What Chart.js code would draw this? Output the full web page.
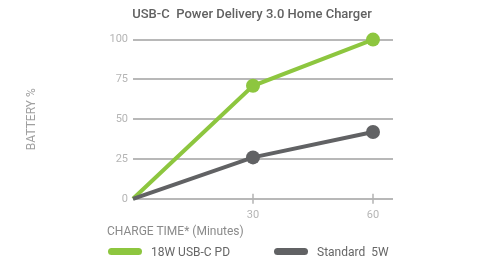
<!DOCTYPE html>
<html>
<head>
<meta charset="utf-8">
<script src="https://cdn.jsdelivr.net/npm/chart.js@4"></script>
<style>
  body { margin: 0; background: #fff; font-family: Roboto, "Liberation Sans", sans-serif; }
  #wrap { position: relative; width: 487px; height: 261px; }
  #xtitle { position: absolute; left: 107px; top: 224px; font-size: 12px; color: #8a8a8a; }
  .leg { position: absolute; top: 245px; font-size: 12px; color: #666; white-space: pre; }
  .leg span.sw { display: inline-block; width: 34px; height: 7px; border-radius: 4px; vertical-align: middle; margin-right: 9px; position: relative; top: -1px; }
</style>
</head>
<body>
<div id="wrap">
  <canvas id="chart" width="487" height="261"></canvas>
  <div id="xtitle">CHARGE TIME* (Minutes)</div>
  <div class="leg" id="leg0" style="left:108px"></div>
  <div class="leg" id="leg1" style="left:274px"></div>
</div>
<script>
/*-------------------------------------------------------------------------*/
// Data
/*-------------------------------------------------------------------------*/
var chartTitle = "USB-C  Power Delivery 3.0 Home Charger";
var minutes = [0, 30, 60];
var fastCharge = [0, 71, 100];
var standardCharge = [0, 26, 42];
var seriesNames = ["18W USB-C PD", "Standard  5W"];
var seriesColors = ["#8dc63f", "#616264"];
var xTicks = [30, 60];
var yTicks = [0, 25, 50, 75, 100];

function toPoints(vals) {
	return minutes.map(function (m, i) { return { x: m, y: vals[i] }; });
}

// tick marks crossing the bottom axis
var crossTicks = {
	id: 'crossTicks',
	afterDatasetsDraw: function (chart) {
		var ctx = chart.ctx, xs = chart.scales.x, bottom = chart.chartArea.bottom;
		ctx.save();
		ctx.strokeStyle = '#b3b3b3';
		ctx.lineWidth = 1.5;
		xTicks.forEach(function (t) {
			var px = xs.getPixelForValue(t);
			ctx.beginPath();
			ctx.moveTo(px, bottom - 5);
			ctx.lineTo(px, bottom + 5);
			ctx.stroke();
		});
		ctx.restore();
	}
};

var ds = [fastCharge, standardCharge].map(function (vals, i) {
	return {
		label: seriesNames[i],
		data: toPoints(vals),
		borderColor: seriesColors[i],
		backgroundColor: seriesColors[i],
		borderWidth: 4,
		pointRadius: [0, 7, 7],
		pointBorderWidth: 0,
		clip: false,
		order: 1 - i
	};
});

new Chart(document.getElementById('chart'), {
	type: 'line',
	data: { datasets: ds },
	options: {
		responsive: false,
		animation: false,
		events: [],
		layout: { padding: { left: 17, right: 0, top: 0, bottom: 37 } },
		plugins: {
			legend: { display: false },
			tooltip: { enabled: false },
			title: {
				display: true,
				text: chartTitle,
				color: '#616161',
				font: { family: 'Roboto', size: 13, weight: '500' },
				padding: { top: 7, bottom: 17 }
			}
		},
		scales: {
			x: {
				type: 'linear',
				min: 0,
				max: 65,
				afterBuildTicks: function (s) { s.ticks = xTicks.map(function (v) { return { value: v }; }); },
				grid: { display: false },
				border: { display: false },
				ticks: { color: '#b5b5b5', font: { family: 'Roboto', size: 11 }, padding: 2 }
			},
			y: {
				min: 0,
				max: 100,
				afterBuildTicks: function (s) { s.ticks = yTicks.map(function (v) { return { value: v }; }); },
				afterFit: function (s) { s.width = 116; },
				grid: { color: '#b8b8b8', lineWidth: 2, drawTicks: false },
				border: { display: false },
				ticks: { color: '#b5b5b5', font: { family: 'Roboto', size: 11 }, padding: 5 },
				title: {
					display: true,
					text: 'BATTERY %',
					color: '#a0a0a0',
					font: { family: 'Roboto', size: 12 },
					padding: { top: 8, bottom: 0 }
				}
			},
			// empty right-hand space so the title centres over the whole figure
			spacer: {
				type: 'linear',
				position: 'right',
				afterFit: function (s) { s.width = 94; },
				grid: { display: false },
				border: { display: false },
				ticks: { display: false }
			}
		}
	},
	plugins: [crossTicks]
});

// legend
seriesNames.forEach(function (name, i) {
	var el = document.getElementById('leg' + i);
	var sw = document.createElement('span');
	sw.className = 'sw';
	sw.style.background = seriesColors[i];
	el.appendChild(sw);
	el.appendChild(document.createTextNode(name));
});
</script>
</body>
</html>
